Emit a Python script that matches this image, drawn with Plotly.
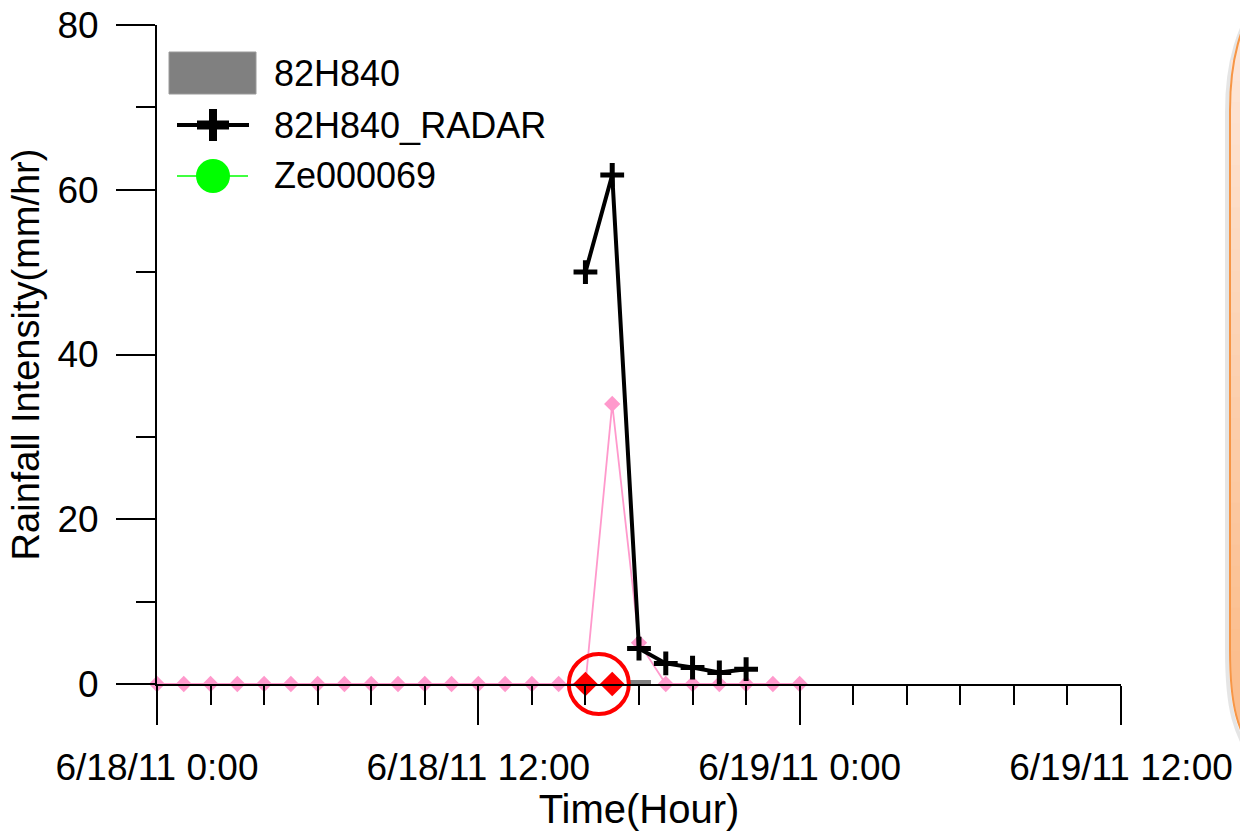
import plotly.graph_objects as go

# ---------------- data ----------------
hours_pink = ["2011-06-18 %02d:00" % h for h in range(24)] + ["2011-06-19 00:00"]
pink_vals = [0, 0, 0, 0, 0, 0, 0, 0, 0, 0, 0, 0, 0, 0, 0, 0, 0, 34, 5, 0, 0, 0, 0, 0, 0]

radar_times = ["2011-06-18 16:00", "2011-06-18 17:00", "2011-06-18 18:00", "2011-06-18 19:00",
               "2011-06-18 20:00", "2011-06-18 21:00", "2011-06-18 22:00"]
radar_vals = [50.0, 61.8, 4.3, 2.5, 2.0, 1.4, 1.8]

gauge_times = ["2011-06-18 18:00"]
gauge_vals = [0.5]

flag_times = ["2011-06-18 16:00", "2011-06-18 17:00"]
flag_vals = [0, 0]

circle_time = ["2011-06-18 16:30"]
circle_val = [0]

x_range = ["2011-06-18 00:00", "2011-06-19 12:00"]
y_range = [0, 80]

legend_names = ["82H840", "82H840_RADAR", "Ze000069"]

FONT = "Liberation Sans, Arial, sans-serif"

# pixel -> paper helpers (plot area: x 157..1121, y 25..684)
L, R, T, B = 157, 1121, 25, 684
def px(v):
    return (v - L) / (R - L)
def py(v):
    return (B - v) / (B - T)

fig = go.Figure()

fig.add_trace(go.Bar(x=gauge_times, y=gauge_vals, width=3.1e6, marker=dict(color="#808080", line=dict(width=0)),
                     name=legend_names[0], showlegend=False))
fig.add_trace(go.Scatter(x=hours_pink, y=pink_vals, mode="lines+markers",
                         line=dict(color="#FF99CC", width=1.8),
                         marker=dict(symbol="diamond", size=12.5, color="#FF99CC"),
                         cliponaxis=False, showlegend=False))
fig.add_trace(go.Scatter(x=flag_times, y=flag_vals, mode="markers",
                         marker=dict(symbol="diamond", size=19, color="#FF0000"),
                         cliponaxis=False, showlegend=False))
fig.add_trace(go.Scatter(x=radar_times, y=radar_vals, mode="lines+markers", name=legend_names[1],
                         line=dict(color="black", width=4),
                         marker=dict(symbol="cross-thin", size=17, color="black",
                                     line=dict(color="black", width=5)),
                         cliponaxis=False, showlegend=False))
fig.add_trace(go.Scatter(x=circle_time, y=circle_val, mode="markers",
                         marker=dict(symbol="circle-open", size=60, color="#FF0000",
                                     line=dict(color="#FF0000", width=4)),
                         cliponaxis=False, showlegend=False, hoverinfo="skip"))

shapes = []
annotations = []

# ----- custom legend -----
shapes.append(dict(type="rect", xref="paper", yref="paper", x0=px(169), x1=px(256), y0=py(94), y1=py(52),
                   fillcolor="#808080", line=dict(color="#9a9a9a", width=1)))
shapes.append(dict(type="line", xref="paper", yref="paper", x0=px(177), x1=px(249), y0=py(125), y1=py(125),
                   line=dict(color="black", width=4)))
shapes.append(dict(type="rect", xref="paper", yref="paper", x0=px(197), x1=px(229), y0=py(129.5), y1=py(120.5),
                   fillcolor="black", line=dict(width=0)))
shapes.append(dict(type="rect", xref="paper", yref="paper", x0=px(209), x1=px(217), y0=py(141), y1=py(109),
                   fillcolor="black", line=dict(width=0)))
shapes.append(dict(type="line", xref="paper", yref="paper", x0=px(177), x1=px(248), y0=py(176), y1=py(176),
                   line=dict(color="#00FF00", width=1.5)))
shapes.append(dict(type="circle", xref="paper", yref="paper", x0=px(196), x1=px(230), y0=py(193), y1=py(159),
                   fillcolor="#00FF00", line=dict(width=0)))
for txt, yc in zip(legend_names, [73, 125, 176]):
    annotations.append(dict(text=txt, xref="paper", yref="paper", x=px(272), y=py(yc), xanchor="left",
                            yanchor="middle", showarrow=False, font=dict(family=FONT, size=36, color="black")))

# ----- orange side box (rounded, vertical gradient) -----
def pt(xv, yv):
    return "%f,%f" % (px(xv), py(yv))
box_path = ("M " + pt(1300, -10) + " L " + pt(1262, -10) +
            " C " + pt(1240, 25) + " " + pt(1230, 60) + " " + pt(1230, 110) +
            " L " + pt(1230, 650) +
            " C " + pt(1230, 705) + " " + pt(1236, 730) + " " + pt(1262, 770) +
            " L " + pt(1300, 770) + " Z")
bottom_path = ("M " + pt(1230, 648) +
               " C " + pt(1230, 705) + " " + pt(1236, 730) + " " + pt(1262, 770) +
               " L " + pt(1300, 770) + " L " + pt(1300, 648) + " Z")
shadow_path = ("M " + pt(1262, -8) +
               " C " + pt(1238, 27) + " " + pt(1227, 62) + " " + pt(1227, 112) +
               " L " + pt(1227, 650) +
               " C " + pt(1227, 707) + " " + pt(1233, 733) + " " + pt(1260, 773))
top_rgb = (253, 230, 216)
bot_rgb = (251, 190, 142)
shapes.append(dict(type="path", xref="paper", yref="paper", path=shadow_path,
                   line=dict(color="rgba(0,0,0,0.10)", width=4)))
shapes.append(dict(type="path", xref="paper", yref="paper", path=box_path,
                   fillcolor="rgb(%d,%d,%d)" % top_rgb, line=dict(width=0)))
shapes.append(dict(type="path", xref="paper", yref="paper", path=bottom_path,
                   fillcolor="rgb(%d,%d,%d)" % bot_rgb, line=dict(width=0)))
nb = 28
y_top, y_bot = 60, 650
for i in range(nb):
    f = (i + 0.5) / nb
    y0b = y_top + (y_bot - y_top) * i / nb
    y1b = y_top + (y_bot - y_top) * (i + 1) / nb + 0.8
    c = tuple(int(round(top_rgb[k] + (bot_rgb[k] - top_rgb[k]) * f)) for k in range(3))
    shapes.append(dict(type="rect", xref="paper", yref="paper", x0=px(1231), x1=px(1300),
                       y0=py(y1b), y1=py(y0b), fillcolor="rgb(%d,%d,%d)" % c, line=dict(width=0)))
shapes.append(dict(type="path", xref="paper", yref="paper", path=box_path,
                   fillcolor="rgba(0,0,0,0)", line=dict(color="#F79646", width=2)))

fig.update_layout(
    width=1240, height=831,
    margin=dict(l=L, r=1240 - R, t=T, b=831 - B, autoexpand=False),
    paper_bgcolor="white", plot_bgcolor="white",
    font=dict(family=FONT, size=36, color="black"),
    showlegend=False,
    shapes=shapes, annotations=annotations,
    bargap=0,
)
fig.update_xaxes(
    type="date", range=x_range, showgrid=False, zeroline=False,
    showline=True, linecolor="black", linewidth=2,
    ticks="outside", ticklen=39, tickwidth=2, tickcolor="black",
    tick0="2011-06-18 00:00", dtick=12 * 3600 * 1000, tickformat="%-m/%-d/%y %-H:%M",
    tickfont=dict(family=FONT, size=37, color="black"), ticklabelstandoff=11,
    minor=dict(ticks="outside", ticklen=19, tickwidth=2, tickcolor="black", dtick=2 * 3600 * 1000,
               tick0="2011-06-18 00:00", showgrid=False),
    title=dict(text="Time(Hour)", font=dict(family=FONT, size=40, color="black"), standoff=0),
    automargin=False,
)
fig.update_yaxes(
    range=y_range, showgrid=False, zeroline=False,
    showline=True, linecolor="black", linewidth=2,
    ticks="outside", ticklen=39, tickwidth=2, tickcolor="black",
    tick0=0, dtick=20, ticklabelstandoff=10,
    tickfont=dict(family=FONT, size=37, color="black"),
    minor=dict(ticks="outside", ticklen=19, tickwidth=2, tickcolor="black", dtick=10, showgrid=False),
    title=dict(text="Rainfall Intensity(mm/hr)", font=dict(family=FONT, size=38, color="black"), standoff=6),
    automargin=False,
)

fig.write_html("out.html")
